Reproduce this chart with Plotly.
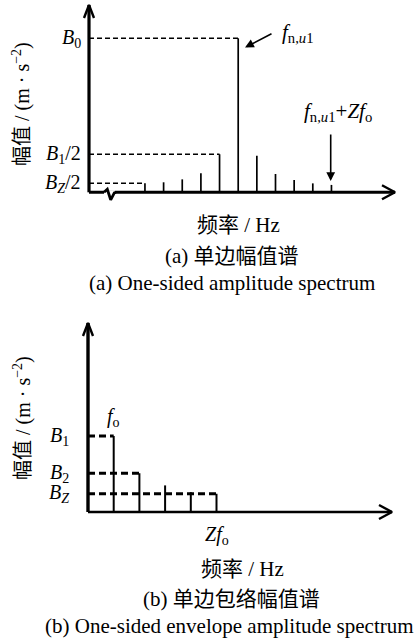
import plotly.graph_objects as go

W, H = 419, 638
FONT = "Liberation Serif, Times New Roman, Noto Sans CJK SC, serif"
FS = 20      # tick-style labels
FC = 21      # captions

# ---------------- data: (a) one-sided amplitude spectrum ----------------
a_sideband_order = [-5, -4, -3, -2, -1, 0, 1, 2, 3, 4, 5]   # relative to f_n,u1 (in units of f_o)
a_amplitude = [0.058, 0.065, 0.084, 0.123, 0.247, 1.0, 0.238, 0.119, 0.080, 0.058, 0.048]
a_carrier_slot = 8
a_ref_labels = ["<i>B</i><sub>0</sub>", "<i>B</i><sub>1</sub>/2", "<i>B</i><sub><i>Z</i></sub>/2"]
a_ref_values = [1.0, 0.247, 0.058]
a_ref_end_order = [0, -1, -5]

# ---------------- data: (b) one-sided envelope amplitude spectrum ----------------
b_order = [1, 2, 3, 4, 5]
b_amplitude = [1.0, 0.51, 0.35, 0.26, 0.24]
b_ref_labels = ["<i>B</i><sub>1</sub>", "<i>B</i><sub>2</sub>", "<i>B</i><sub><i>Z</i></sub>"]
b_ref_values = [1.0, 0.51, 0.24]
b_ref_end_order = [1, 2, 5]

# ---------------- layout geometry (pixels) ----------------
AX0, ADX, AY0, ADY = 89.0, 18.65, 192.3, 154.0   # panel a origin & scale
BX0, BDX, BY0, BDY = 88.0, 25.7, 512.0, 76.0     # panel b origin & scale
HALF = H / 2.0

fig = go.Figure()


def line(xs, ys, xa, ya, width, dash="solid", color="black"):
    fig.add_trace(go.Scatter(x=xs, y=ys, xaxis=xa, yaxis=ya, mode="lines",
                             line=dict(color=color, width=width, dash=dash),
                             hoverinfo="skip", showlegend=False))


# ===== panel (a) =====
ax_tip_y = (AY0 - 5) / ADY
ax_tip_x = (395 - AX0) / ADX
for v, o in zip(a_ref_values, a_ref_end_order):
    line([0, a_carrier_slot + o], [v, v], "x", "y", 1.5, dash="5px,3px")
xs, ys = [], []
for o, a in zip(a_sideband_order, a_amplitude):
    xs += [a_carrier_slot + o, a_carrier_slot + o, None]
    ys += [0, a, None]
line(xs, ys, "x", "y", 1.7)
line([0, 0], [0, ax_tip_y], "x", "y", 3.2)
line([0, ax_tip_x], [0, 0], "x", "y", 3.0)
line([-5 / ADX, 0, 5 / ADX], [ax_tip_y - 13 / ADY, ax_tip_y, ax_tip_y - 13 / ADY], "x", "y", 2.4)
line([ax_tip_x - 13 / ADX, ax_tip_x, ax_tip_x - 13 / ADX], [7 / ADY, 0, -7 / ADY], "x", "y", 2.4)
# break mark on the frequency axis
line([(104 - AX0) / ADX, (115 - AX0) / ADX], [0, 0], "x", "y", 4.0, color="white")
zx = [(104 - AX0) / ADX, (107.3 - AX0) / ADX, (110.7 - AX0) / ADX, (114.3 - AX0) / ADX, (116 - AX0) / ADX]
zy = [0, 3 / ADY, -7.5 / ADY, -0.5 / ADY, 0]
line(zx, zy, "x", "y", 2.8)

# ===== panel (b) =====
bx_tip_y = (BY0 - 323) / BDY
bx_tip_x = (392 - BX0) / BDX
for v, o in zip(b_ref_values, b_ref_end_order):
    line([0, o], [v, v], "x2", "y2", 3.0, dash="7px,4px")
xs, ys = [], []
for o, a in zip(b_order, b_amplitude):
    xs += [o, o, None]
    ys += [0, a, None]
line(xs, ys, "x2", "y2", 2.0)
line([0, 0], [0, bx_tip_y], "x2", "y2", 3.4)
line([0, bx_tip_x], [0, 0], "x2", "y2", 2.6)
line([-5 / BDX, 0, 5 / BDX], [bx_tip_y - 13 / BDY, bx_tip_y, bx_tip_y - 13 / BDY], "x2", "y2", 2.4)
line([bx_tip_x - 13 / BDX, bx_tip_x, bx_tip_x - 13 / BDX], [7 / BDY, 0, -7 / BDY], "x2", "y2", 2.4)

ann = []


def text(t, xp, yp, anchor="center", size=FC, angle=0):
    ann.append(dict(text=t, x=xp / W, y=1 - yp / H, xref="paper", yref="paper",
                    xanchor=anchor, yanchor="middle", showarrow=False, textangle=angle,
                    font=dict(family=FONT, size=size, color="black")))


for lab, v in zip(a_ref_labels, a_ref_values):
    ann.append(dict(text=lab, x=-6 / ADX, y=v, xref="x", yref="y", xanchor="right",
                    yanchor="middle", showarrow=False, font=dict(family=FONT, size=FS, color="black")))
for lab, v in zip(b_ref_labels, b_ref_values):
    ann.append(dict(text=lab, x=-17 / BDX, y=v, xref="x2", yref="y2", xanchor="right",
                    yanchor="middle", showarrow=False, font=dict(family=FONT, size=FS, color="black")))

ann.append(dict(text="", x=(245 - AX0) / ADX, y=(AY0 - 47.5) / ADY, ax=(273 - AX0) / ADX,
                ay=(AY0 - 33) / ADY, xref="x", yref="y", axref="x", ayref="y", showarrow=True,
                arrowhead=2, arrowsize=1.1, arrowwidth=1.6, arrowcolor="black"))
ann.append(dict(text="", x=(330.7 - AX0) / ADX, y=(AY0 - 181) / ADY, ax=(330.7 - AX0) / ADX,
                ay=(AY0 - 133) / ADY, xref="x", yref="y", axref="x", ayref="y", showarrow=True,
                arrowhead=2, arrowsize=1.1, arrowwidth=1.6, arrowcolor="black"))

text("<i>f</i><sub>n,<i>u</i>1</sub>", 280, 33, anchor="left")
text("<i>f</i><sub>n,<i>u</i>1</sub>+<i>Z</i><i>f</i><sub>o</sub>", 338, 112)
yl = "幅值 / (m · s<sup>−2</sup>)"
text(yl, 22, 104, size=FS, angle=-90)
text("频率 / Hz", 239, 225)
text("(a) 单边幅值谱", 232, 256)
text("(a) One-sided amplitude spectrum", 232, 283)

text("<i>f</i><sub>o</sub>", 113, 417, size=FS)
text("<i>Z</i><i>f</i><sub>o</sub>", 217, 535, size=FS)
text(yl, 22, 418, size=FS, angle=-90)
text("频率 / Hz", 242, 569)
text("(b) 单边包络幅值谱", 231, 599)
text("(b) One-sided envelope amplitude spectrum", 230, 626)

hid = dict(visible=False, showgrid=False, zeroline=False, fixedrange=True)
fig.update_layout(
    width=W, height=H, margin=dict(l=0, r=0, t=0, b=0),
    paper_bgcolor="white", plot_bgcolor="white", showlegend=False,
    xaxis=dict(hid, domain=[0, 1], range=[-AX0 / ADX, (W - AX0) / ADX], anchor="y"),
    yaxis=dict(hid, domain=[0.5, 1], range=[(AY0 - HALF) / ADY, AY0 / ADY], anchor="x"),
    xaxis2=dict(hid, domain=[0, 1], range=[-BX0 / BDX, (W - BX0) / BDX], anchor="y2"),
    yaxis2=dict(hid, domain=[0, 0.5], range=[(BY0 - H) / BDY, (BY0 - HALF) / BDY], anchor="x2"),
    annotations=ann,
)
fig.write_html("out.html", config={"displayModeBar": False},
               post_script="document.body.style.margin='0px';document.body.style.overflow='hidden';")
